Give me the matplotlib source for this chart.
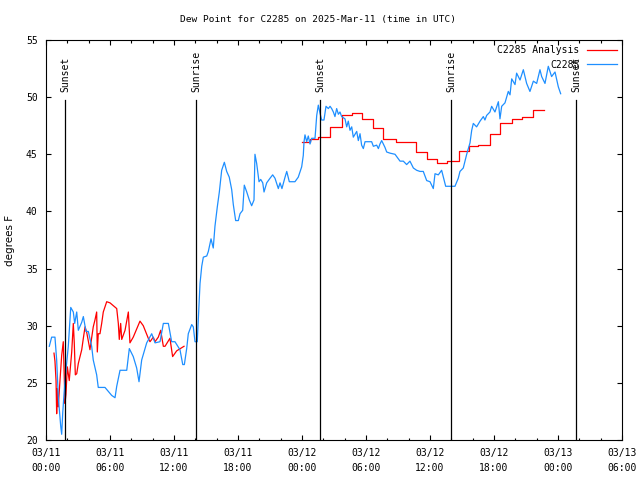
import numpy as np
import matplotlib
matplotlib.use('Agg')
import matplotlib.pyplot as plt

# hours since 2025-03-11 00:00 UTC
obs_hours = [0.31, 0.53, 0.84, 1.0, 1.15, 1.38, 1.47, 1.57, 1.78, 2.09, 2.32, 2.56, 2.69, 2.88,
             3.03, 3.35, 3.5, 3.75, 3.97, 4.28, 4.43, 4.75, 4.9, 5.53, 6.16, 6.47, 6.63, 6.94,
             7.57, 7.81, 8.18, 8.5, 8.72, 8.97, 9.44, 9.91, 10.22, 10.69, 11.0, 11.47, 11.78,
             12.09, 12.56, 12.82, 12.97, 13.19, 13.34, 13.66, 13.81, 13.97, 14.18, 14.34, 14.44,
             14.6, 14.75, 15.07, 15.22, 15.47, 15.68, 15.84, 16.06, 16.25, 16.47, 16.72, 16.94,
             17.18, 17.41, 17.56, 17.78, 18.03, 18.19, 18.44, 18.59, 18.82, 19.06, 19.28, 19.5,
             19.59, 19.75, 19.97, 20.13, 20.32, 20.44, 20.69, 21.0, 21.25, 21.47, 21.78, 21.94,
             22.12, 22.41, 22.57, 22.81, 23.34, 23.65, 23.97, 24.12, 24.19, 24.28, 24.44, 24.59,
             24.75, 24.91, 25.22, 25.38, 25.53, 25.69, 25.84, 26.06, 26.25, 26.47, 26.63, 26.78,
             26.94, 27.09, 27.25, 27.41, 27.56, 27.72, 28.03, 28.19, 28.34, 28.5, 28.66, 28.81,
             29.13, 29.28, 29.44, 29.59, 29.75, 29.91, 30.53, 30.69, 31.0, 31.16, 31.31, 31.47,
             31.78, 31.94, 32.25, 32.72, 32.88, 33.19, 33.5, 33.81, 34.12, 34.44, 34.75, 35.06,
             35.37, 35.69, 36.0, 36.31, 36.47, 36.78, 37.09, 37.25, 37.47, 38.34, 38.65, 38.81,
             39.12, 39.44, 39.75, 39.91, 40.06, 40.37, 40.69, 41.0, 41.15, 41.31, 41.62, 41.78,
             42.09, 42.41, 42.56, 42.72, 43.03, 43.34, 43.5, 43.66, 43.97, 44.12, 44.44, 44.75,
             45.06, 45.37, 45.69, 46.0, 46.31, 46.47, 46.78, 47.09, 47.4, 47.72, 48.03, 48.25]
obs_dewpt = [28.2, 29.0, 29.0, 27.0, 23.8, 21.2, 20.5, 22.4, 25.2, 28.2, 31.6, 31.2, 30.2, 31.2,
             29.6, 30.3, 30.8, 29.5, 29.5, 28.2, 27.0, 25.7, 24.6, 24.6, 23.9, 23.7, 24.7, 26.1,
             26.1, 28.0, 27.3, 26.3, 25.1, 27.0, 28.5, 29.3, 28.5, 28.6, 30.2, 30.2, 28.6,
             28.6, 27.9, 26.6, 26.6, 28.0, 29.3, 30.1, 29.9, 28.6, 28.6, 31.7, 33.7,
             35.2, 36.0, 36.1, 36.5, 37.6, 36.8, 38.7, 40.4, 41.7, 43.6, 44.3, 43.5,
             43.0, 41.9, 40.6, 39.2, 39.2, 39.8, 40.1, 42.3, 41.7, 41.0, 40.5, 41.0,
             45.0, 44.2, 42.6, 42.8, 42.5, 41.7, 42.5, 42.9, 43.2, 42.9, 42.0, 42.5,
             42.0, 43.0, 43.5, 42.6, 42.6, 43.0, 43.9, 44.9, 46.1, 46.7, 46.1, 46.6,
             45.9, 46.4, 46.4, 48.4, 49.3, 48.6, 48.0, 48.0, 49.2, 49.0, 49.2, 49.0,
             48.7, 48.3, 49.0, 48.5, 48.7, 48.3, 48.1, 47.4, 47.9, 47.1, 47.4, 46.5,
             47.0, 46.2, 46.8, 45.8, 45.5, 46.1, 46.1, 45.7, 45.8, 45.5, 45.9, 46.2,
             45.6, 45.2, 45.1, 45.0, 44.8, 44.4, 44.4, 44.1, 44.4, 43.8, 43.6, 43.5,
             43.5, 42.7, 42.6, 42.0, 43.3, 43.2, 43.6, 43.0, 42.2, 42.2, 42.9, 43.5,
             43.8, 45.0, 46.0, 47.1, 47.7, 47.4, 47.9, 48.3, 48.0, 48.4, 48.7, 49.2,
             48.7, 49.6, 48.1, 49.2, 49.5, 50.5, 50.2, 51.6, 51.1, 52.1, 51.5, 52.4,
             51.2, 50.5, 51.4, 51.2, 52.4, 51.8, 51.2, 52.7, 51.8, 52.2, 50.9, 50.3]

# analysis, first day
ana1_hours = [0.75, 0.84, 0.94, 1.0, 1.06, 1.15, 1.31, 1.47, 1.62, 1.78, 1.87, 2.0, 2.18, 2.41,
              2.56, 2.65, 2.75, 2.88, 3.03, 3.19, 3.35, 3.5, 3.66, 3.82, 4.12, 4.43, 4.59, 4.75,
              4.81, 4.9, 5.06, 5.22, 5.37, 5.69, 6.0, 6.63, 6.78, 6.87, 7.0, 7.1, 7.41, 7.72,
              7.87, 8.18, 8.81, 9.12, 9.59, 9.75, 10.06, 10.22, 10.53, 10.75, 11.0, 11.16,
              11.62, 11.87, 12.25, 12.94]
ana1_dewpt = [27.6, 26.9, 25.2, 22.3, 24.5, 22.9, 25.2, 27.4, 28.6, 23.2, 24.0, 26.4, 25.2, 27.7,
              30.2, 28.5, 25.7, 25.8, 26.7, 27.3, 27.9, 28.9, 29.9, 29.4, 27.9, 29.9, 30.5, 31.2,
              27.7, 29.3, 29.3, 30.2, 31.2, 32.1, 32.0, 31.5, 30.2, 28.8, 30.2, 28.8, 29.6, 31.2,
              28.5, 29.0, 30.4, 30.0, 28.9, 28.6, 29.0, 28.6, 29.0, 29.6, 28.2, 28.2,
              28.9, 27.3, 27.8, 28.2]

# analysis, second day (hourly steps)
ana2_hours = [23.97, 24.75, 25.53, 26.63, 27.72, 28.66, 29.65, 30.69, 31.63, 32.77, 34.66, 35.69,
              36.69, 37.62, 38.72, 39.69, 40.53, 41.62, 42.56, 43.66, 44.6, 45.63, 46.69]
ana2_dewpt = [46.1, 46.3, 46.5, 47.4, 48.4, 48.6, 48.1, 47.3, 46.3, 46.1, 45.2, 44.6,
              44.2, 44.4, 45.3, 45.7, 45.8, 46.8, 47.7, 48.1, 48.3, 48.9, 48.9]

sun_hours = [1.78, 14.06, 25.69, 37.97, 49.69]
sun_labels = ['Sunset', 'Sunrise', 'Sunset', 'Sunrise', 'Sunset']

tick_hours = list(range(0, 55, 6))
tick_labels = ['03/11\n00:00', '03/11\n06:00', '03/11\n12:00', '03/11\n18:00',
               '03/12\n00:00', '03/12\n06:00', '03/12\n12:00', '03/12\n18:00',
               '03/13\n00:00', '03/13\n06:00']

plt.rcParams['font.family'] = 'DejaVu Sans Mono'
plt.rcParams['font.size'] = 7

fig = plt.figure(figsize=(6.4, 4.8), dpi=100)
ax = fig.add_axes([46 / 640, 40 / 480, 576 / 640, 400 / 480])

red = '#ff0000'
blue = '#1e8fff'
ax.plot(ana1_hours, ana1_dewpt, color=red, lw=0.9, label='C2285 Analysis')
ax.plot(ana2_hours, ana2_dewpt, color=red, lw=0.9, drawstyle='steps-post')
ax.plot(obs_hours, obs_dewpt, color=blue, lw=0.9, label='C2285')

for h, lab in zip(sun_hours, sun_labels):
    ax.plot([h, h], [0, 0.85], color='black', lw=0.9, transform=ax.get_xaxis_transform())
    ax.text(h, 0.87, lab, rotation=90, ha='center', va='bottom',
            transform=ax.get_xaxis_transform())

ax.set_xlim(0, 54)
ax.set_ylim(20, 55)
ax.set_xticks(tick_hours)
ax.set_xticklabels(tick_labels, linespacing=1.6)
ax.set_xticks(np.arange(0, 55, 2), minor=True)
ax.set_yticks(np.arange(20, 56, 5))
ax.tick_params(which='both', direction='in', top=True, right=True, width=0.8)
ax.tick_params(which='major', length=3.5, pad=6)
ax.tick_params(which='minor', length=1.8)
for s in ax.spines.values():
    s.set_linewidth(0.8)

ax.set_ylabel('degrees F', family='DejaVu Sans', fontsize=7.5)
ax.yaxis.set_label_coords(-0.053, 0.5)
fig.suptitle('Dew Point for C2285 on 2025-Mar-11 (time in UTC)', fontsize=6.8,
             x=0.497, y=0.96, va='center')

ax.legend(loc='upper right', frameon=False, markerfirst=False, handlelength=3.0,
          borderaxespad=0.15, labelspacing=0.45, handletextpad=0.8)

fig.savefig('out.png', dpi=100)
